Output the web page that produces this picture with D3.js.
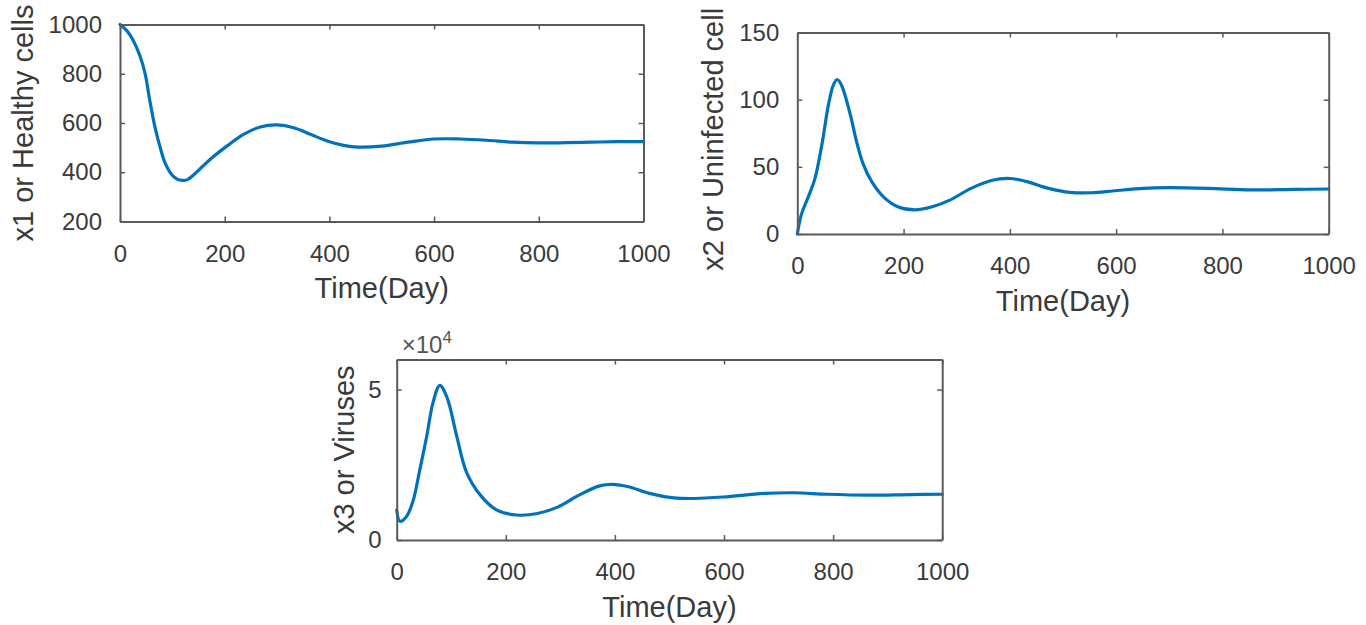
<!DOCTYPE html>
<html>
<head>
<meta charset="utf-8">
<script src="https://cdn.jsdelivr.net/npm/d3@7"></script>
<style>
  html, body { margin: 0; padding: 0; background: #fff; }
  svg { display: block; }
</style>
</head>
<body>
<svg id="fig" width="1366" height="625"></svg>
<script>
// Simulated model output: time (days) and state variables
const healthyDays  = [0, 13, 25, 38, 48, 57, 67, 77, 86, 99, 110, 119, 128, 140, 172, 204, 236, 268, 300, 332, 364, 396, 427, 455, 500, 550, 600, 650, 700, 750, 800, 850, 900, 950, 1000];
const healthyCells = [1000, 975, 936, 873, 800, 690, 581, 499, 438, 390, 371, 367, 369, 388, 452, 506, 554, 584, 592, 581, 554, 527, 509, 502, 506, 522, 535, 535, 530, 522, 519, 520, 522, 524, 524];

const uninfDays  = [0, 8, 20, 33, 46, 59, 68, 75, 83, 99, 112, 124, 140, 165, 189, 221, 254, 286, 327, 367, 400, 432, 473, 513, 554, 594, 651, 700, 773, 854, 935, 1000];
const uninfCells = [0, 15, 27, 41, 66, 97, 111, 115, 111, 90, 68, 52, 39, 26.5, 20.3, 18, 20.3, 25, 34, 40, 41.3, 39, 34, 31, 30.7, 32, 34, 34.5, 34, 32.8, 33.2, 33.5];

const virusDays = [0, 6, 18, 30, 42, 55, 67, 79, 92, 110, 128, 153, 183, 220, 258, 296, 334, 372, 395, 425, 463, 508, 546, 599, 675, 728, 789, 865, 941, 1000];
const viruses   = [10000, 6200, 7800, 13000, 23000, 34500, 46000, 51400, 47500, 34500, 22500, 15000, 10000, 8300, 8800, 11000, 14900, 18000, 18500, 17700, 15500, 14000, 13800, 14300, 15500, 15700, 15200, 14900, 15100, 15200];

// Axis settings
const timeTicks    = [0, 200, 400, 600, 800, 1000];
const healthyTicks = [200, 400, 600, 800, 1000];
const uninfTicks   = [0, 50, 100, 150];
const virusTicks   = [0, 50000];

const FONT = "'Liberation Sans', Arial, Helvetica, sans-serif";
const TEXT = "#3a3a3a";
const AXIS = "#5a5a5a";
const LINE = "#0072BD";

const svg = d3.select("#fig");
svg.append("rect").attr("width", 1366).attr("height", 625).attr("fill", "#fff");

function panel(cfg) {
  const x = d3.scaleLinear().domain([0, 1000]).range([cfg.left, cfg.right]);
  const y = d3.scaleLinear().domain(cfg.yDomain).range([cfg.bottom, cfg.top]);
  const g = svg.append("g");

  const styleAxis = sel => {
    sel.attr("font-family", FONT).attr("font-size", 24);
    sel.select(".domain").attr("stroke", AXIS).attr("stroke-width", 2);
    sel.selectAll(".tick line").attr("stroke", AXIS).attr("stroke-width", 1.5);
    sel.selectAll(".tick text").attr("fill", TEXT);
  };

  // data curve (drawn under the frame)
  const line = d3.line()
    .x((d, i) => x(cfg.days[i]))
    .y(d => y(d))
    .curve(d3.curveCatmullRom.alpha(0.5));
  g.append("path")
    .datum(cfg.values)
    .attr("d", line)
    .attr("fill", "none")
    .attr("stroke", LINE)
    .attr("stroke-width", 3.2)
    .attr("stroke-linejoin", "round")
    .attr("stroke-linecap", "round");

  // box axes with inward ticks
  g.append("g").attr("transform", `translate(0,${cfg.bottom})`)
    .call(d3.axisBottom(x).tickValues(timeTicks).tickSizeInner(-5).tickSizeOuter(0)
      .tickPadding(23).tickFormat(d3.format("d")))
    .call(styleAxis);
  g.append("g").attr("transform", `translate(0,${cfg.top})`)
    .call(d3.axisTop(x).tickValues(timeTicks).tickSizeInner(-5).tickSizeOuter(0).tickFormat(""))
    .call(styleAxis);
  g.append("g").attr("transform", `translate(${cfg.left},0)`)
    .call(d3.axisLeft(y).tickValues(cfg.yTicks).tickSizeInner(-5).tickSizeOuter(0)
      .tickPadding(cfg.yPad).tickFormat(cfg.yFormat || d3.format("d")))
    .call(styleAxis);
  g.append("g").attr("transform", `translate(${cfg.right},0)`)
    .call(d3.axisRight(y).tickValues(cfg.yTicks).tickSizeInner(-5).tickSizeOuter(0).tickFormat(""))
    .call(styleAxis);

  // axis labels
  g.append("text")
    .attr("x", (cfg.left + cfg.right) / 2)
    .attr("y", cfg.bottom + 76.5)
    .attr("text-anchor", "middle")
    .attr("font-family", FONT).attr("font-size", 29).attr("fill", TEXT)
    .text("Time(Day)");
  const labelY = (cfg.top + cfg.bottom) / 2 + (cfg.yLabelShift || 0);
  g.append("text")
    .attr("transform", `translate(${cfg.left - cfg.yLabelOffset},${labelY}) rotate(-90)`)
    .attr("text-anchor", "middle")
    .attr("font-family", FONT).attr("font-size", 29).attr("fill", TEXT)
    .text(cfg.yLabel);
  return g;
}

panel({
  left: 120, right: 643.5, top: 24.5, bottom: 221.5,
  yDomain: [200, 1000], yTicks: healthyTicks, yPad: 18, yLabelOffset: 87,
  days: healthyDays, values: healthyCells, yLabel: "x1 or Healthy cells"
});

panel({
  left: 797.3, right: 1328.7, top: 32.5, bottom: 234,
  yDomain: [0, 150], yTicks: uninfTicks, yPad: 18, yLabelOffset: 74, yLabelShift: 6,
  days: uninfDays, values: uninfCells, yLabel: "x2 or Uninfected cell"
});

const p3 = panel({
  left: 396.7, right: 942.2, top: 359.5, bottom: 540,
  yDomain: [0, 60000], yTicks: virusTicks, yPad: 15, yLabelOffset: 43,
  yFormat: d => d / 1e4,
  days: virusDays, values: viruses, yLabel: "x3 or Viruses"
});

// exponent label for the virus axis
const expo = p3.append("text")
  .attr("x", 401.7).attr("y", 353)
  .attr("font-family", FONT).attr("font-size", 24).attr("fill", "#555");
expo.append("tspan").text("\u00d710");
expo.append("tspan").attr("font-size", 17).attr("dy", -10).text("4");
</script>
</body>
</html>
